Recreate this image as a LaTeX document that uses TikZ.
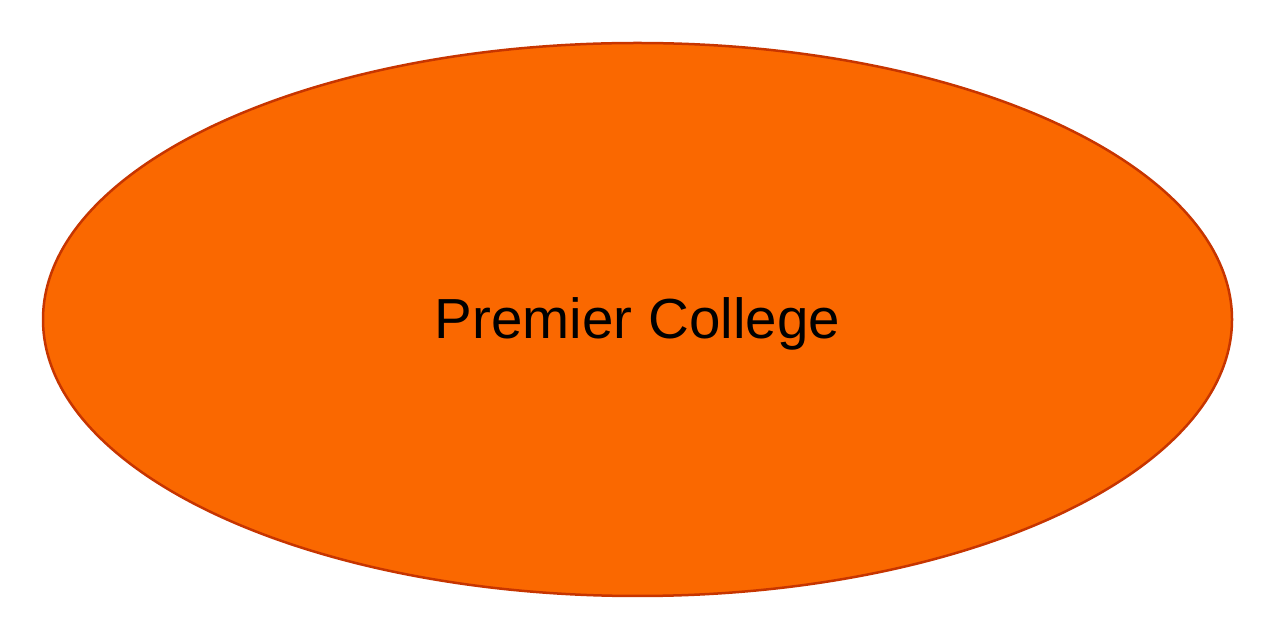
\documentclass[tikz,border=0pt]{standalone}
\usepackage{fontspec}
\setmainfont{Liberation Sans}
\usetikzlibrary{shapes.geometric}
\definecolor{fillorange}{HTML}{FA6800}
\definecolor{strokeorange}{HTML}{C73500}
\tikzset{college/.style={ellipse, fill=fillorange, draw=strokeorange, line width=2.5pt,
  minimum width=1189pt, minimum height=553pt, inner sep=0pt, text=black},
  collegetext/.style={font=\fontsize{56.5pt}{64pt}\selectfont, text=black, inner sep=0pt}}
\begin{document}
\begin{tikzpicture}[x=1pt,y=1pt]
\useasboundingbox (0,0) rectangle (1280,640);
\node[college] (pc) at (637.5,320.5) {};
\node[collegetext] (pclabel) at ([yshift=-4pt]pc.center) {Premier College};
\end{tikzpicture}
\end{document}
